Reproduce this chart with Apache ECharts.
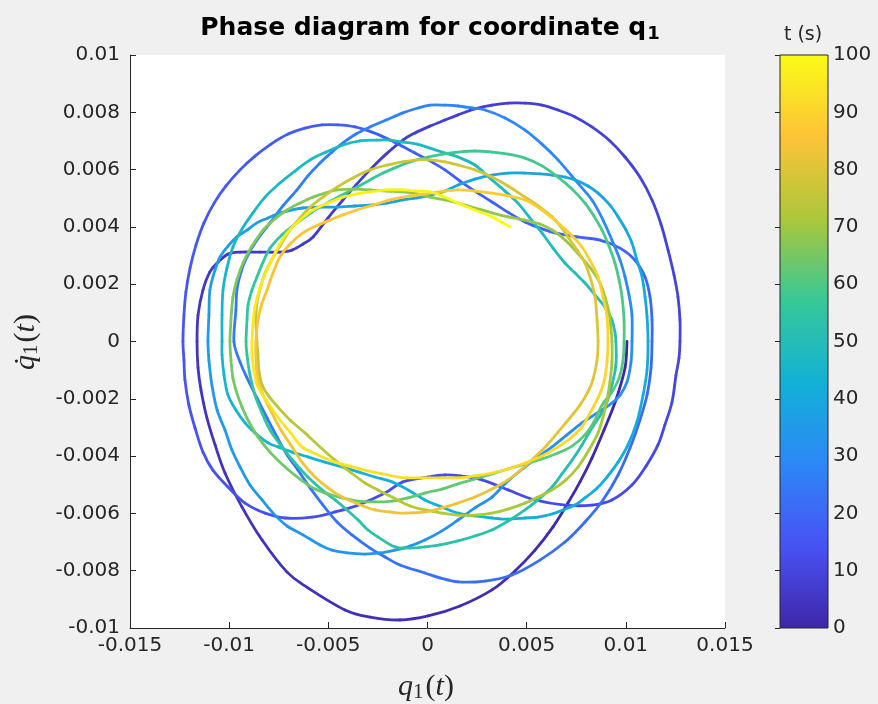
<!DOCTYPE html>
<html>
<head>
<meta charset="utf-8">
<script src="https://cdn.jsdelivr.net/npm/echarts@6/dist/echarts.min.js"></script>
<style>
html,body{margin:0;padding:0;background:#f0f0f0;}
#chart{width:878px;height:704px;}
</style>
</head>
<body>
<div id="chart"></div>
<script>
// ---------- DATA ----------
// each entry: [q1, dq1/dt, t]
const loop01 = [
[0.01006,0,0],[0.00996,-0.00092,0.2],[0.00950,-0.00204,0.45],[0.00890,-0.00309,0.7],[0.00829,-0.00407,0.9],[0.00769,-0.00490,1.1],[0.00708,-0.00564,1.3],[0.00633,-0.00647,1.5],[0.00542,-0.00728,1.7],[0.00441,-0.00801,1.9],[0.00325,-0.00867,2.1],[0.00164,-0.00923,2.3],[0.00003,-0.00958,2.5],
[-0.00139,-0.00972,2.7],[-0.00290,-0.00962,2.9],[-0.00416,-0.00937,3.1],[-0.00603,-0.00860,3.35],[-0.00708,-0.00805,3.55],[-0.00834,-0.00693,3.8],[-0.00935,-0.00578,4.0],[-0.01021,-0.00459,4.2],[-0.01071,-0.00361,4.35],[-0.01112,-0.00267,4.5],[-0.01142,-0.00169,4.65],[-0.01157,-0.00092,4.8],[-0.01162,0,5.0],
[-0.01157,0.00092,5.15],[-0.01132,0.00180,5.3],[-0.01097,0.00243,5.45],[-0.01056,0.00277,5.55],[-0.01006,0.00305,5.65],[-0.00945,0.00312,5.75],[-0.00845,0.00312,5.9],[-0.00744,0.00312,6.05],[-0.00683,0.00319,6.15],[-0.00628,0.00340,6.25],[-0.00577,0.00365,6.35],[-0.00502,0.00431,6.5],[-0.00426,0.00494,6.65],[-0.00361,0.00546,6.8],[-0.00290,0.00599,6.95],[-0.00209,0.00654,7.1],[-0.00124,0.00703,7.3],[-0.00063,0.00728,7.45],[0.00013,0.00752,7.6],
[0.00088,0.00773,7.75],[0.00154,0.00791,7.85],[0.00239,0.00812,8.0],[0.00325,0.00825,8.1],[0.00406,0.00832,8.2],[0.00492,0.00832,8.3],[0.00577,0.00825,8.45],[0.00658,0.00808,8.55],[0.00744,0.00784,8.7],[0.00829,0.00749,8.8],[0.00920,0.00700,8.95],[0.00996,0.00644,9.1],[0.01071,0.00574,9.25],[0.01132,0.00494,9.4],[0.01177,0.00410,9.5],[0.01213,0.00319,9.65],[0.01243,0.00232,9.8],[0.01263,0.00155,9.9],[0.01273,0.00075,10.0],[0.01273,0,10.1]
];
const loop02 = [
[0.01268,-0.00058,10.2],[0.01253,-0.00117,10.3],[0.01233,-0.00211,10.5],[0.01197,-0.00291,10.65],[0.01162,-0.00361,10.8],[0.01102,-0.00435,11.0],[0.01031,-0.00501,11.15],[0.00930,-0.00553,11.35],[0.00829,-0.00571,11.5],[0.00693,-0.00571,11.7],[0.00542,-0.00553,11.9],[0.00406,-0.00518,12.05],[0.00275,-0.00483,12.2],[0.00164,-0.00469,12.35],[0.00088,-0.00466,12.45],[0.00003,-0.00473,12.6],
[-0.00124,-0.00490,12.75],[-0.00214,-0.00529,12.9],[-0.00350,-0.00571,13.05],[-0.00466,-0.00595,13.2],[-0.00582,-0.00613,13.35],[-0.00718,-0.00616,13.55],[-0.00819,-0.00599,13.7],[-0.00920,-0.00564,13.85],[-0.01006,-0.00508,14.05],[-0.01082,-0.00449,14.2],[-0.01132,-0.00386,14.35],[-0.01172,-0.00302,14.5],[-0.01203,-0.00222,14.65],[-0.01223,-0.00134,14.8],[-0.01228,-0.00065,14.95],[-0.01233,0,15.1],
[-0.01228,0.00092,15.25],[-0.01218,0.00173,15.4],[-0.01197,0.00257,15.55],[-0.01167,0.00337,15.7],[-0.01127,0.00414,15.85],[-0.01076,0.00483,16.0],[-0.01016,0.00543,16.15],[-0.00945,0.00599,16.3],[-0.00870,0.00647,16.45],[-0.00789,0.00689,16.6],[-0.00703,0.00724,16.75],[-0.00618,0.00745,16.85],[-0.00532,0.00756,16.95],[-0.00451,0.00756,17.05],[-0.00366,0.00749,17.15],[-0.00280,0.00731,17.3],[-0.00199,0.00707,17.4],[-0.00129,0.00682,17.5],[-0.00063,0.00658,17.6],[0.00003,0.00634,17.75],
[0.00088,0.00599,17.9],[0.00164,0.00560,18.05],[0.00245,0.00522,18.15],[0.00325,0.00487,18.3],[0.00411,0.00449,18.45],[0.00492,0.00417,18.55],[0.00567,0.00396,18.7],[0.00643,0.00379,18.8],[0.00754,0.00365,18.95],[0.00870,0.00354,19.15],[0.00971,0.00326,19.3],[0.01046,0.00284,19.45],[0.01097,0.00225,19.6],[0.01122,0.00155,19.8],[0.01132,0.00075,20.0],[0.01132,0,20.2]
];
const loop03 = [
[0.01127,-0.00092,20.4],[0.01107,-0.00187,20.6],[0.01071,-0.00274,20.75],[0.01021,-0.00372,20.95],[0.00961,-0.00466,21.1],[0.00885,-0.00553,21.3],[0.00794,-0.00630,21.45],[0.00693,-0.00700,21.65],[0.00567,-0.00763,21.85],[0.00426,-0.00815,22.05],[0.00290,-0.00836,22.25],[0.00154,-0.00839,22.4],[0.00063,-0.00825,22.55],[-0.00013,-0.00808,22.7],
[-0.00139,-0.00780,22.85],[-0.00214,-0.00752,23.0],[-0.00290,-0.00721,23.1],[-0.00381,-0.00675,23.25],[-0.00456,-0.00630,23.4],[-0.00527,-0.00571,23.55],[-0.00592,-0.00511,23.7],[-0.00653,-0.00449,23.85],[-0.00708,-0.00396,24.0],[-0.00759,-0.00333,24.1],[-0.00809,-0.00267,24.25],[-0.00860,-0.00197,24.4],[-0.00910,-0.00127,24.55],[-0.00945,-0.00072,24.7],[-0.00976,0,24.9],
[-0.00966,0.00110,25.15],[-0.00961,0.00180,25.3],[-0.00940,0.00243,25.45],[-0.00910,0.00295,25.6],[-0.00860,0.00354,25.75],[-0.00794,0.00414,25.95],[-0.00729,0.00473,26.1],[-0.00658,0.00529,26.25],[-0.00603,0.00578,26.4],[-0.00542,0.00623,26.55],[-0.00482,0.00661,26.7],[-0.00426,0.00693,26.8],[-0.00361,0.00724,26.95],[-0.00290,0.00749,27.1],[-0.00209,0.00773,27.25],[-0.00124,0.00798,27.4],[-0.00048,0.00815,27.55],[0.00013,0.00825,27.65],
[0.00088,0.00825,27.8],[0.00154,0.00822,27.9],[0.00224,0.00815,28.05],[0.00290,0.00808,28.15],[0.00391,0.00780,28.35],[0.00492,0.00738,28.55],[0.00577,0.00689,28.7],[0.00658,0.00634,28.85],[0.00744,0.00564,29.0],[0.00829,0.00494,29.2],[0.00885,0.00424,29.35],[0.00930,0.00354,29.5],[0.00971,0.00284,29.65],[0.00996,0.00225,29.8],[0.01016,0.00162,29.95],[0.01031,0.00092,30.1],[0.01031,0,30.3]
];
const loop04 = [
[0.01026,-0.00072,30.45],[0.01006,-0.00141,30.6],[0.00971,-0.00187,30.75],[0.00930,-0.00215,30.85],[0.00855,-0.00250,31.0],[0.00779,-0.00284,31.15],[0.00703,-0.00326,31.3],[0.00628,-0.00368,31.45],[0.00557,-0.00403,31.6],[0.00492,-0.00438,31.7],[0.00406,-0.00487,31.85],[0.00325,-0.00543,32.0],[0.00239,-0.00581,32.15],[0.00154,-0.00623,32.3],[0.00073,-0.00661,32.45],[-0.00013,-0.00693,32.6],
[-0.00088,-0.00714,32.75],[-0.00164,-0.00728,32.85],[-0.00239,-0.00738,33.0],[-0.00315,-0.00742,33.1],[-0.00406,-0.00738,33.25],[-0.00482,-0.00728,33.4],[-0.00542,-0.00710,33.5],[-0.00628,-0.00675,33.65],[-0.00708,-0.00644,33.8],[-0.00769,-0.00606,33.95],[-0.00834,-0.00553,34.1],[-0.00895,-0.00501,34.25],[-0.00945,-0.00438,34.4],[-0.00986,-0.00379,34.55],[-0.01021,-0.00309,34.7],[-0.01061,-0.00239,34.85],[-0.01087,-0.00152,35.0],[-0.01102,-0.00065,35.15],[-0.01107,0,35.3],
[-0.01102,0.00092,35.5],[-0.01097,0.00180,35.65],[-0.01071,0.00250,35.8],[-0.01046,0.00295,35.9],[-0.01006,0.00333,36.0],[-0.00961,0.00365,36.1],[-0.00910,0.00389,36.2],[-0.00860,0.00414,36.3],[-0.00804,0.00431,36.4],[-0.00744,0.00449,36.5],[-0.00683,0.00459,36.6],[-0.00628,0.00466,36.7],[-0.00542,0.00469,36.8],[-0.00456,0.00469,36.95],[-0.00366,0.00473,37.05],[-0.00290,0.00476,37.2],[-0.00204,0.00483,37.3],[-0.00124,0.00494,37.45],[-0.00053,0.00501,37.55],[0.00013,0.00511,37.7],
[0.00088,0.00525,37.8],[0.00154,0.00546,37.95],[0.00239,0.00567,38.05],[0.00325,0.00581,38.2],[0.00406,0.00588,38.35],[0.00492,0.00588,38.45],[0.00567,0.00585,38.6],[0.00628,0.00581,38.7],[0.00693,0.00574,38.8],[0.00744,0.00564,38.9],[0.00809,0.00543,39.05],[0.00860,0.00518,39.15],[0.00920,0.00476,39.3],[0.00961,0.00435,39.45],[0.01001,0.00389,39.55],[0.01031,0.00344,39.7],[0.01056,0.00284,39.85],[0.01082,0.00225,40.0],[0.01097,0.00155,40.15],[0.01107,0.00086,40.3],[0.01112,0,40.45]
];
const loop05 = [
[0.01107,-0.00099,40.65],[0.01087,-0.00187,40.8],[0.01056,-0.00281,41.0],[0.01011,-0.00361,41.15],[0.00961,-0.00421,41.3],[0.00905,-0.00473,41.45],[0.00850,-0.00515,41.6],[0.00794,-0.00546,41.7],[0.00744,-0.00571,41.8],[0.00683,-0.00588,41.9],[0.00628,-0.00602,42.0],[0.00557,-0.00613,42.15],[0.00492,-0.00616,42.25],[0.00406,-0.00620,42.35],[0.00325,-0.00616,42.5],[0.00239,-0.00609,42.6],[0.00154,-0.00599,42.75],[0.00073,-0.00578,42.85],[-0.00013,-0.00553,43.0],
[-0.00098,-0.00518,43.15],[-0.00179,-0.00490,43.3],[-0.00265,-0.00473,43.45],[-0.00350,-0.00455,43.6],[-0.00431,-0.00438,43.75],[-0.00517,-0.00421,43.9],[-0.00603,-0.00403,44.05],[-0.00683,-0.00386,44.2],[-0.00754,-0.00368,44.35],[-0.00804,-0.00354,44.45],[-0.00870,-0.00319,44.6],[-0.00920,-0.00284,44.75],[-0.00966,-0.00239,44.9],[-0.01006,-0.00187,45.05],[-0.01026,-0.00117,45.2],[-0.01036,-0.00047,45.35],[-0.01036,0,45.5],
[-0.01036,0.00092,45.7],[-0.01031,0.00180,45.85],[-0.01011,0.00257,46.0],[-0.00981,0.00330,46.15],[-0.00935,0.00393,46.3],[-0.00880,0.00449,46.45],[-0.00819,0.00504,46.6],[-0.00744,0.00553,46.75],[-0.00668,0.00595,46.9],[-0.00592,0.00634,47.05],[-0.00512,0.00661,47.2],[-0.00426,0.00686,47.35],[-0.00340,0.00700,47.5],[-0.00255,0.00703,47.6],[-0.00189,0.00703,47.7],[-0.00124,0.00696,47.8],[-0.00053,0.00689,47.9],[0.00013,0.00675,48.0],
[0.00088,0.00658,48.15],[0.00154,0.00644,48.25],[0.00239,0.00616,48.4],[0.00325,0.00564,48.55],[0.00391,0.00525,48.7],[0.00456,0.00483,48.8],[0.00517,0.00431,48.95],[0.00577,0.00379,49.1],[0.00633,0.00326,49.2],[0.00693,0.00274,49.35],[0.00744,0.00239,49.45],[0.00794,0.00204,49.55],[0.00845,0.00162,49.7],[0.00895,0.00120,49.85],[0.00930,0.00075,50.0],[0.00945,0.00033,50.1],[0.00950,0,50.2]
];
const loop06 = [
[0.00950,-0.00082,50.45],[0.00930,-0.00152,50.6],[0.00895,-0.00229,50.8],[0.00829,-0.00302,51.0],[0.00779,-0.00361,51.15],[0.00729,-0.00414,51.3],[0.00678,-0.00462,51.45],[0.00628,-0.00508,51.55],[0.00557,-0.00553,51.7],[0.00492,-0.00588,51.85],[0.00406,-0.00627,52.0],[0.00325,-0.00658,52.15],[0.00239,-0.00679,52.3],[0.00154,-0.00696,52.4],[0.00063,-0.00710,52.55],[-0.00013,-0.00717,52.7],
[-0.00088,-0.00721,52.85],[-0.00164,-0.00717,52.95],[-0.00250,-0.00682,53.15],[-0.00300,-0.00658,53.25],[-0.00350,-0.00623,53.4],[-0.00406,-0.00588,53.5],[-0.00466,-0.00553,53.65],[-0.00532,-0.00518,53.8],[-0.00603,-0.00473,53.95],[-0.00668,-0.00424,54.1],[-0.00734,-0.00368,54.25],[-0.00794,-0.00309,54.4],[-0.00834,-0.00250,54.55],[-0.00870,-0.00187,54.7],[-0.00895,-0.00117,54.85],[-0.00910,-0.00047,55.0],[-0.00915,0,55.15],
[-0.00910,0.00075,55.3],[-0.00905,0.00127,55.45],[-0.00885,0.00180,55.6],[-0.00860,0.00225,55.7],[-0.00829,0.00277,55.85],[-0.00794,0.00326,56.0],[-0.00734,0.00372,56.15],[-0.00658,0.00414,56.3],[-0.00582,0.00452,56.45],[-0.00507,0.00483,56.6],[-0.00431,0.00511,56.75],[-0.00355,0.00539,56.9],[-0.00290,0.00564,57.0],[-0.00224,0.00588,57.15],[-0.00154,0.00609,57.3],[-0.00088,0.00627,57.45],[0.00003,0.00644,57.6],
[0.00078,0.00654,57.75],[0.00154,0.00661,57.85],[0.00239,0.00665,58.0],[0.00325,0.00661,58.15],[0.00406,0.00654,58.3],[0.00492,0.00640,58.45],[0.00577,0.00613,58.6],[0.00658,0.00574,58.75],[0.00729,0.00532,58.9],[0.00794,0.00483,59.05],[0.00839,0.00438,59.2],[0.00880,0.00389,59.35],[0.00915,0.00333,59.5],[0.00945,0.00274,59.65],[0.00966,0.00215,59.8],[0.00981,0.00155,59.95],[0.00991,0.00075,60.15],[0.00991,0,60.35]
];
const loop07 = [
[0.00986,-0.00065,60.5],[0.00966,-0.00127,60.65],[0.00930,-0.00176,60.8],[0.00880,-0.00222,60.95],[0.00839,-0.00281,61.1],[0.00794,-0.00326,61.25],[0.00729,-0.00365,61.4],[0.00658,-0.00389,61.55],[0.00577,-0.00410,61.7],[0.00492,-0.00428,61.85],[0.00406,-0.00445,62.0],[0.00325,-0.00462,62.15],[0.00239,-0.00480,62.3],[0.00154,-0.00497,62.45],[0.00073,-0.00515,62.55],[-0.00013,-0.00529,62.7],
[-0.00098,-0.00546,62.85],[-0.00179,-0.00557,63.0],[-0.00265,-0.00560,63.15],[-0.00350,-0.00557,63.3],[-0.00431,-0.00546,63.45],[-0.00502,-0.00532,63.6],[-0.00567,-0.00515,63.7],[-0.00643,-0.00480,63.85],[-0.00718,-0.00438,64.0],[-0.00794,-0.00386,64.15],[-0.00855,-0.00333,64.3],[-0.00900,-0.00281,64.45],[-0.00935,-0.00229,64.6],[-0.00961,-0.00180,64.75],[-0.00981,-0.00127,64.9],[-0.00991,-0.00065,65.05],[-0.00996,0,65.2],
[-0.00991,0.00075,65.4],[-0.00981,0.00155,65.55],[-0.00961,0.00215,65.7],[-0.00930,0.00274,65.85],[-0.00885,0.00333,66.0],[-0.00829,0.00389,66.15],[-0.00769,0.00428,66.3],[-0.00708,0.00459,66.45],[-0.00643,0.00483,66.6],[-0.00577,0.00504,66.75],[-0.00517,0.00518,66.85],[-0.00456,0.00529,66.95],[-0.00366,0.00532,67.1],[-0.00290,0.00529,67.25],[-0.00204,0.00525,67.4],[-0.00124,0.00522,67.55],[-0.00053,0.00515,67.65],[0.00013,0.00504,67.8],
[0.00088,0.00494,67.95],[0.00154,0.00483,68.05],[0.00239,0.00466,68.2],[0.00325,0.00449,68.35],[0.00406,0.00435,68.5],[0.00492,0.00424,68.65],[0.00567,0.00410,68.8],[0.00628,0.00389,68.9],[0.00683,0.00361,69.05],[0.00729,0.00330,69.2],[0.00779,0.00291,69.35],[0.00829,0.00250,69.5],[0.00870,0.00204,69.65],[0.00895,0.00155,69.8],[0.00915,0.00103,69.95],[0.00925,0.00047,70.1],[0.00930,0,70.3]
];
const loop08 = [
[0.00930,-0.00072,70.45],[0.00920,-0.00141,70.6],[0.00905,-0.00204,70.75],[0.00885,-0.00264,70.9],[0.00860,-0.00319,71.05],[0.00814,-0.00379,71.2],[0.00759,-0.00438,71.35],[0.00698,-0.00483,71.5],[0.00628,-0.00518,71.65],[0.00557,-0.00543,71.8],[0.00492,-0.00564,71.9],[0.00406,-0.00585,72.05],[0.00325,-0.00599,72.2],[0.00239,-0.00606,72.35],[0.00154,-0.00606,72.5],[0.00073,-0.00599,72.65],[-0.00013,-0.00588,72.8],
[-0.00088,-0.00574,72.95],[-0.00179,-0.00543,73.1],[-0.00250,-0.00518,73.25],[-0.00315,-0.00494,73.4],[-0.00391,-0.00455,73.55],[-0.00466,-0.00414,73.7],[-0.00542,-0.00368,73.85],[-0.00618,-0.00319,74.0],[-0.00693,-0.00274,74.15],[-0.00754,-0.00229,74.3],[-0.00804,-0.00187,74.45],[-0.00834,-0.00152,74.6],[-0.00850,-0.00099,74.75],[-0.00855,-0.00047,74.9],[-0.00860,0,75.05],
[-0.00865,0.00075,75.25],[-0.00860,0.00134,75.4],[-0.00839,0.00197,75.55],[-0.00819,0.00239,75.65],[-0.00794,0.00274,75.75],[-0.00744,0.00333,75.9],[-0.00693,0.00389,76.05],[-0.00643,0.00431,76.2],[-0.00592,0.00469,76.3],[-0.00527,0.00504,76.45],[-0.00456,0.00539,76.6],[-0.00376,0.00571,76.75],[-0.00290,0.00599,76.9],[-0.00204,0.00616,77.05],[-0.00124,0.00627,77.2],[-0.00053,0.00634,77.3],[0.00013,0.00634,77.45],
[0.00088,0.00627,77.6],[0.00154,0.00616,77.8],[0.00239,0.00599,78.0],[0.00325,0.00574,78.2],[0.00406,0.00543,78.4],[0.00492,0.00504,78.6],[0.00567,0.00469,78.75],[0.00628,0.00435,78.9],[0.00673,0.00400,79.05],[0.00708,0.00365,79.2],[0.00754,0.00319,79.35],[0.00794,0.00274,79.5],[0.00824,0.00215,79.7],[0.00845,0.00155,79.9],[0.00855,0.00075,80.15],[0.00860,0,80.4]
];
const loop09 = [
[0.00855,-0.00065,80.55],[0.00834,-0.00134,80.7],[0.00809,-0.00176,80.85],[0.00769,-0.00222,81.0],[0.00718,-0.00267,81.15],[0.00658,-0.00316,81.3],[0.00603,-0.00361,81.45],[0.00542,-0.00403,81.6],[0.00476,-0.00445,81.75],[0.00406,-0.00483,81.9],[0.00325,-0.00515,82.05],[0.00239,-0.00543,82.2],[0.00154,-0.00564,82.35],[0.00073,-0.00581,82.5],[-0.00013,-0.00595,82.65],[-0.00113,-0.00599,82.85],[-0.00189,-0.00595,83.0],
[-0.00265,-0.00588,83.15],[-0.00350,-0.00567,83.3],[-0.00431,-0.00543,83.45],[-0.00502,-0.00511,83.6],[-0.00567,-0.00473,83.75],[-0.00633,-0.00421,83.9],[-0.00683,-0.00368,84.05],[-0.00739,-0.00309,84.2],[-0.00784,-0.00250,84.35],[-0.00824,-0.00194,84.5],[-0.00855,-0.00134,84.65],[-0.00865,-0.00065,84.8],[-0.00865,0,84.95],
[-0.00855,0.00075,85.15],[-0.00834,0.00134,85.3],[-0.00809,0.00180,85.4],[-0.00779,0.00239,85.55],[-0.00744,0.00295,85.7],[-0.00693,0.00340,85.85],[-0.00628,0.00379,86.0],[-0.00562,0.00403,86.15],[-0.00492,0.00424,86.3],[-0.00426,0.00442,86.45],[-0.00355,0.00459,86.6],[-0.00275,0.00476,86.75],[-0.00189,0.00494,86.9],[-0.00088,0.00508,87.1],[0.00013,0.00518,87.3],
[0.00088,0.00525,87.45],[0.00154,0.00529,87.6],[0.00239,0.00525,87.75],[0.00325,0.00518,87.9],[0.00406,0.00508,88.05],[0.00492,0.00494,88.2],[0.00577,0.00459,88.4],[0.00658,0.00414,88.6],[0.00724,0.00372,88.75],[0.00779,0.00330,88.9],[0.00824,0.00277,89.1],[0.00860,0.00225,89.3],[0.00885,0.00155,89.5],[0.00905,0.00086,89.75],[0.00910,0,90.0]
];
const loop10 = [
[0.00905,-0.00072,90.2],[0.00890,-0.00141,90.35],[0.00860,-0.00197,90.5],[0.00819,-0.00250,90.7],[0.00779,-0.00298,90.85],[0.00724,-0.00337,91.0],[0.00658,-0.00368,91.2],[0.00577,-0.00400,91.35],[0.00492,-0.00424,91.55],[0.00406,-0.00445,91.7],[0.00325,-0.00459,91.9],[0.00239,-0.00469,92.05],[0.00154,-0.00476,92.25],[0.00073,-0.00476,92.4],[-0.00013,-0.00476,92.6],
[-0.00088,-0.00476,92.75],[-0.00149,-0.00473,92.95],[-0.00229,-0.00462,93.1],[-0.00315,-0.00449,93.3],[-0.00391,-0.00435,93.45],[-0.00466,-0.00421,93.6],[-0.00552,-0.00396,93.8],[-0.00633,-0.00368,93.95],[-0.00693,-0.00316,94.15],[-0.00744,-0.00274,94.3],[-0.00814,-0.00204,94.5],[-0.00855,-0.00159,94.65],[-0.00875,-0.00099,94.85],[-0.00885,-0.00047,95.0],[-0.00885,0,95.2],
[-0.00880,0.00058,95.35],[-0.00870,0.00120,95.5],[-0.00845,0.00187,95.7],[-0.00809,0.00250,95.85],[-0.00764,0.00316,96.05],[-0.00708,0.00379,96.25],[-0.00643,0.00424,96.45],[-0.00577,0.00459,96.6],[-0.00502,0.00483,96.8],[-0.00426,0.00504,96.95],[-0.00355,0.00515,97.1],[-0.00290,0.00522,97.25],[-0.00204,0.00529,97.45],[-0.00124,0.00529,97.6],[-0.00053,0.00525,97.75],[0.00013,0.00522,97.9],
[0.00088,0.00504,98.15],[0.00154,0.00483,98.45],[0.00239,0.00459,98.85],[0.00325,0.00435,99.4],[0.00416,0.00400,100]
];

const xTickLabels = ['-0.015','-0.01','-0.005','0','0.005','0.01','0.015'];
const yTickLabels = ['-0.01','-0.008','-0.006','-0.004','-0.002','0','0.002','0.004','0.006','0.008','0.01'];
const cbTickLabels = ['0','10','20','30','40','50','60','70','80','90','100'];
const tRange = [0, 100];

// ---------- STYLE ----------
const parulaStops = [
  [0/7,'#3e26a8'],[1/7,'#4852f4'],[2/7,'#2d87f7'],[3/7,'#12b1d6'],
  [4/7,'#37c897'],[5/7,'#abc739'],[6/7,'#fec338'],[7/7,'#f9fb15']
];
function hex2rgb(h){return [parseInt(h.substr(1,2),16),parseInt(h.substr(3,2),16),parseInt(h.substr(5,2),16)];}
function parula(f){
  f = Math.max(0, Math.min(1, f));
  for (let i=0;i<parulaStops.length-1;i++){
    const a=parulaStops[i], b=parulaStops[i+1];
    if (f<=b[0]){
      const u=(f-a[0])/(b[0]-a[0]); const ca=hex2rgb(a[1]), cb=hex2rgb(b[1]);
      return 'rgb('+ca.map((v,k)=>Math.round(v+(cb[k]-v)*u)).join(',')+')';
    }
  }
  return parulaStops[parulaStops.length-1][1];
}

const loops = [loop01,loop02,loop03,loop04,loop05,loop06,loop07,loop08,loop09,loop10];
const pts = [].concat(...loops);
const segs = [];
for (let i=0;i<pts.length-1;i++){
  const p0=pts[Math.max(i-1,0)], p1=pts[i], p2=pts[i+1], p3=pts[Math.min(i+2,pts.length-1)];
  segs.push([p1[0],p1[1],(p1[2]+p2[2])/2,p2[0],p2[1],p0[0],p0[1],p3[0],p3[1]]);
}

const axisColor = '#262626';
const fontSans = 'DejaVu Sans';
const fontSerif = 'Liberation Serif';

const chart = echarts.init(document.getElementById('chart'), null, {renderer:'canvas'});
const xMin=-0.015, xInt=0.005, yMin=-0.01, yInt=0.002;

chart.setOption({
  animation:false,
  backgroundColor:'#f0f0f0',
  grid:[
    {left:130, top:55, width:595, height:573, show:true, backgroundColor:'#ffffff', borderWidth:0},
    {left:780, top:55, width:48, height:573, show:false}
  ],
  xAxis:[
    {gridIndex:0, type:'value', min:xMin, max:0.015, interval:xInt,
     axisLine:{show:true,onZero:false,lineStyle:{color:axisColor,width:1}},
     axisTick:{show:true,inside:true,length:6,lineStyle:{color:axisColor}},
     splitLine:{show:false},
     axisLabel:{color:axisColor,fontSize:20,fontFamily:fontSans,margin:8,showMinLabel:true,showMaxLabel:true,
       formatter:v=>xTickLabels[Math.round((v-xMin)/xInt)]}},
    {gridIndex:1, type:'value', min:0, max:1, show:false}
  ],
  yAxis:[
    {gridIndex:0, type:'value', min:yMin, max:0.01, interval:yInt,
     axisLine:{show:true,onZero:false,lineStyle:{color:axisColor,width:1}},
     axisTick:{show:true,inside:true,length:6,lineStyle:{color:axisColor}},
     splitLine:{show:false},
     axisLabel:{color:axisColor,fontSize:20,fontFamily:fontSans,margin:10,showMinLabel:true,showMaxLabel:true,
       formatter:v=>yTickLabels[Math.round((v-yMin)/yInt)]}},
    {gridIndex:1, type:'value', min:tRange[0], max:tRange[1], interval:10, position:'right', z:10,
     axisLine:{show:false},
     axisTick:{show:true,inside:true,length:5,lineStyle:{color:axisColor}},
     splitLine:{show:false},
     axisLabel:{color:axisColor,fontSize:20,fontFamily:fontSans,margin:5,showMinLabel:true,showMaxLabel:true,
       formatter:v=>cbTickLabels[Math.round(v/10)]}}
  ],
  series:[
    {type:'custom', xAxisIndex:0, yAxisIndex:0, clip:true,
     data:segs,
     encode:{x:[0,3],y:[1,4]},
     renderItem:function(params, api){
       const a=api.coord([api.value(0),api.value(1)]);
       const b=api.coord([api.value(3),api.value(4)]);
       const p=api.coord([api.value(5),api.value(6)]);
       const n=api.coord([api.value(7),api.value(8)]);
       const k=1/6;
       return {type:'bezierCurve',
         shape:{x1:a[0],y1:a[1],x2:b[0],y2:b[1],
           cpx1:a[0]+(b[0]-p[0])*k, cpy1:a[1]+(b[1]-p[1])*k,
           cpx2:b[0]-(n[0]-a[0])*k, cpy2:b[1]-(n[1]-a[1])*k},
         style:{stroke:parula((api.value(2)-tRange[0])/(tRange[1]-tRange[0])), fill:null, lineWidth:2.8, lineCap:'round'}};
     }},
    {type:'custom', xAxisIndex:1, yAxisIndex:1, clip:false,
     data:[[0,tRange[0],1,tRange[1]]],
     renderItem:function(params, api){
       const tl=api.coord([api.value(0),api.value(3)]);
       const br=api.coord([api.value(2),api.value(1)]);
       return {type:'rect', shape:{x:tl[0],y:tl[1],width:br[0]-tl[0],height:br[1]-tl[1]},
         style:{fill:{type:'linear',x:0,y:1,x2:0,y2:0,colorStops:parulaStops.map(s=>({offset:s[0],color:s[1]}))},
                stroke:axisColor,lineWidth:1}};
     }}
  ],
  graphic:[
    {type:'text', x:430, y:28, style:{text:'{a|Phase diagram for coordinate q}{b|1}', align:'center', verticalAlign:'middle',
      rich:{a:{fontSize:25,fontWeight:'bold',fontFamily:fontSans,fill:'#000'},
            b:{fontSize:18,fontWeight:'bold',fontFamily:fontSans,fill:'#000',padding:[13,0,0,1]}}}},
    {type:'text', x:803, y:35, style:{text:'t (s)', align:'center', verticalAlign:'middle', fontSize:19, fontFamily:fontSans, fill:axisColor}},
    {type:'text', x:426, y:687, style:{text:'{i|q}{s|1}{r|(}{i|t}{r|)}', align:'center', verticalAlign:'middle',
      rich:{i:{fontSize:30,fontStyle:'italic',fontFamily:fontSerif,fill:axisColor},
            r:{fontSize:30,fontFamily:fontSerif,fill:axisColor},
            s:{fontSize:21,fontFamily:fontSerif,fill:axisColor,padding:[11,2,0,0]}}}},
    {type:'text', x:26, y:342, rotation:Math.PI/2, style:{text:'{i|q\u0307}{s|1}{r|(}{i|t}{r|)}', align:'center', verticalAlign:'middle',
      rich:{i:{fontSize:30,fontStyle:'italic',fontFamily:fontSerif,fill:axisColor},
            r:{fontSize:30,fontFamily:fontSerif,fill:axisColor},
            s:{fontSize:21,fontFamily:fontSerif,fill:axisColor,padding:[11,2,0,0]}}}}
  ]
});
</script>
</body>
</html>
